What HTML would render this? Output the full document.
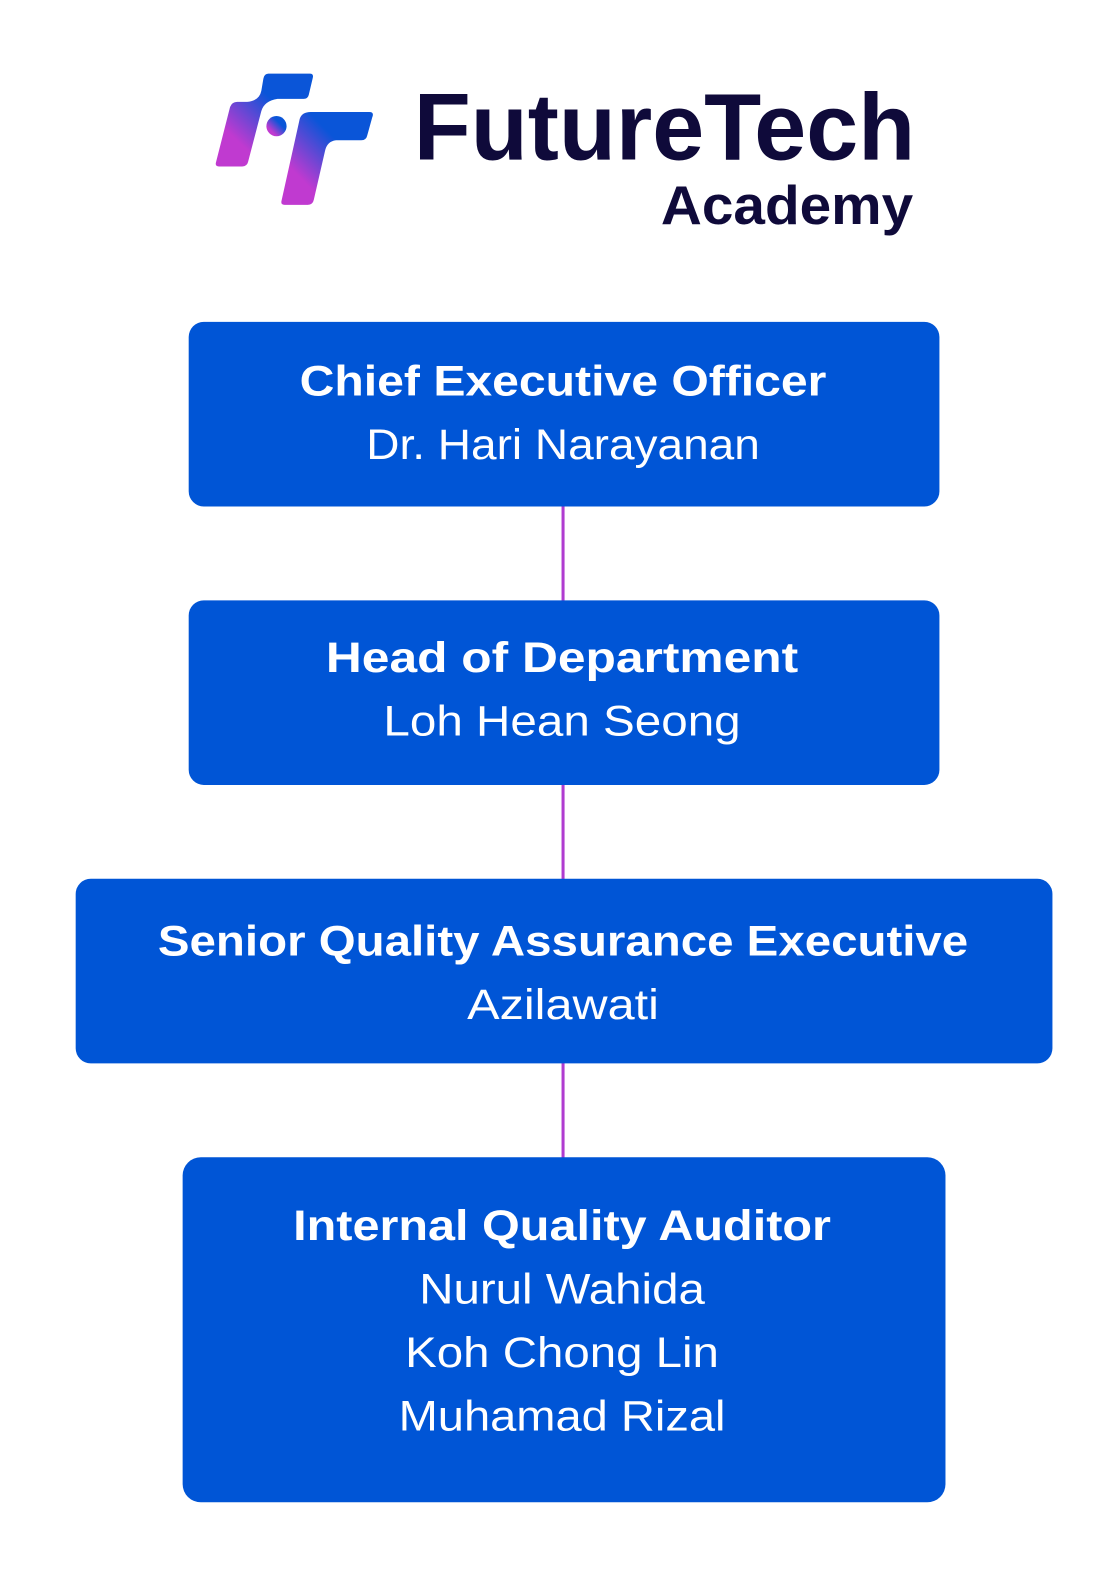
<!DOCTYPE html>
<html><head><meta charset="utf-8"><style>
html,body{margin:0;padding:0;background:#fff;overflow:hidden;width:1115px;height:1581px;}
svg{display:block;position:absolute;left:0;top:0}
</style></head><body>
<svg width="1115" height="1581" viewBox="0 0 1105 1567" preserveAspectRatio="none" xmlns="http://www.w3.org/2000/svg">
<defs>
<linearGradient id="g" x1="1" y1="0" x2="0" y2="1">
<stop offset="0.35" stop-color="#0a55d8"/>
<stop offset="0.75" stop-color="#c03ad0"/>
</linearGradient>
</defs>
<path fill="url(#g)" d="M266,73 H307 Q311,73 310,77 L306,94 Q305,98 301,98 H275 Q262,100 259,110 L246,160 Q245,165 240,165 H217 Q213,165 214,161 L228,106 Q230,101 235,101 H245 Q257,100 259,90 L261,78 Q262,73 266,73 Z"/>
<circle cx="274" cy="125" r="10" fill="url(#g)"/>
<path fill="url(#g)" d="M308,111 H366 Q371,111 369,116 L364,134 Q363,139 358,139 H333 Q324,140 322,150 L311,198 Q310,203 305,203 H282 Q278,203 279,199 L297,118 Q299,111 308,111 Z"/>
<text x="907" y="158" text-anchor="end" font-family="Liberation Sans, sans-serif" font-weight="bold" font-size="94" fill="#0f0a3a" textLength="497" lengthAdjust="spacingAndGlyphs">FutureTech</text>
<text x="905" y="222" text-anchor="end" font-family="Liberation Sans, sans-serif" font-weight="bold" font-size="54" fill="#0f0a3a" textLength="250" lengthAdjust="spacingAndGlyphs">Academy</text>
<g stroke="#b03cd0" stroke-width="3">
<line x1="558" y1="500" x2="558" y2="597"/>
<line x1="558" y1="776" x2="558" y2="873"/>
<line x1="558" y1="1052" x2="558" y2="1149"/>
</g>
<g fill="#0055d6">
<rect x="187" y="319" width="744" height="183" rx="15"/>
<rect x="187" y="595" width="744" height="183" rx="15"/>
<rect x="75" y="871" width="968" height="183" rx="15"/>
<rect x="181" y="1147" width="756" height="342" rx="18"/>
</g>
<g font-family="Liberation Sans, sans-serif" fill="#fff" text-anchor="middle" font-size="42">
<text x="558" y="392" font-weight="bold" textLength="522" lengthAdjust="spacingAndGlyphs">Chief Executive Officer</text>
<text x="558" y="455" textLength="390" lengthAdjust="spacingAndGlyphs">Dr. Hari Narayanan</text>
<text x="557" y="666" font-weight="bold" textLength="468" lengthAdjust="spacingAndGlyphs">Head of Department</text>
<text x="557" y="729" textLength="354" lengthAdjust="spacingAndGlyphs">Loh Hean Seong</text>
<text x="558" y="947" font-weight="bold" textLength="803" lengthAdjust="spacingAndGlyphs">Senior Quality Assurance Executive</text>
<text x="558" y="1010" textLength="190" lengthAdjust="spacingAndGlyphs">Azilawati</text>
<text x="557" y="1229" font-weight="bold" textLength="533" lengthAdjust="spacingAndGlyphs">Internal Quality Auditor</text>
<text x="557" y="1292" textLength="283" lengthAdjust="spacingAndGlyphs">Nurul Wahida</text>
<text x="557" y="1355" textLength="311" lengthAdjust="spacingAndGlyphs">Koh Chong Lin</text>
<text x="557" y="1418" textLength="324" lengthAdjust="spacingAndGlyphs">Muhamad Rizal</text>
</g>
</svg>
</body></html>
